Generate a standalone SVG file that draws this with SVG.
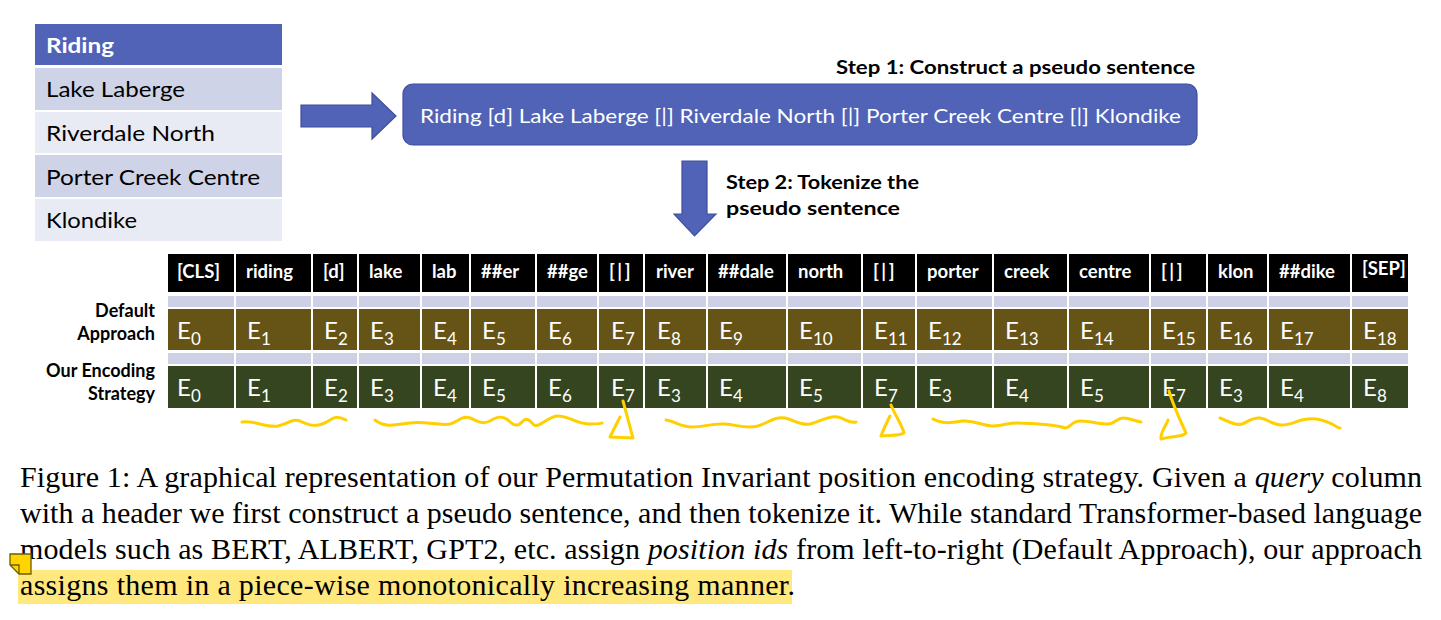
<svg xmlns="http://www.w3.org/2000/svg" width="1441" height="620" viewBox="0 0 1441 620">
<style>
  .sans { font-family: Lato, "Open Sans", "Liberation Sans", sans-serif; }
  .tbl { font-family: Lato, "Liberation Sans", sans-serif; font-size: 21px; fill: #000; }
  .hdr { font-family: Lato, "Liberation Sans", sans-serif; font-size: 21px; font-weight: bold; fill: #fff; }
  .blue { fill: #5063B7; stroke: #3F4E9E; stroke-width: 1.2; }
  .step { font-family: Lato, "Liberation Sans", sans-serif; font-size: 19px; font-weight: bold; fill: #000; }
  .tok { fill: #000; }
  .tokt { font-family: Lato, "Liberation Sans", sans-serif; font-size: 18.5px; font-weight: bold; fill: #fff; }
  .bar { letter-spacing: 2.5px; }
  .strip { fill: #CED1E6; }
  .brown { fill: #665416; }
  .green { fill: #34451F; }
  .e { font-family: Lato, "Liberation Sans", sans-serif; font-size: 24px; fill: #fff; }
  .e tspan { font-size: 17px; }
  .lbl { font-family: Lato, "Liberation Sans", sans-serif; font-size: 18px; font-weight: bold; fill: #000; text-anchor: end; }
  .cap { font-family: "Liberation Serif", "Times New Roman", serif; font-size: 30px; fill: #000; }
  .it { font-style: italic; }
  .ink { fill: none; stroke: #FFD000; stroke-width: 3; stroke-linecap: round; stroke-linejoin: round; }
</style>

<!-- Column table -->
<g id="column-table">
  <rect x="35" y="24" width="247" height="41" fill="#5063B7"/>
  <rect x="35" y="68" width="247" height="42" fill="#CFD3E8"/>
  <rect x="35" y="112" width="247" height="41" fill="#E8EAF4"/>
  <rect x="35" y="155" width="247" height="42" fill="#CFD3E8"/>
  <rect x="35" y="199" width="247" height="42" fill="#E8EAF4"/>
  <text class="hdr" x="46" y="53" textLength="68" lengthAdjust="spacingAndGlyphs">Riding</text>
  <text class="tbl" x="46" y="97" textLength="139" lengthAdjust="spacingAndGlyphs">Lake Laberge</text>
  <text class="tbl" x="46" y="141" textLength="169" lengthAdjust="spacingAndGlyphs">Riverdale North</text>
  <text class="tbl" x="46" y="185" textLength="214" lengthAdjust="spacingAndGlyphs">Porter Creek Centre</text>
  <text class="tbl" x="46" y="228" textLength="91" lengthAdjust="spacingAndGlyphs">Klondike</text>
</g>

<!-- Pseudo sentence box -->
<g id="pseudo-sentence">
  <rect class="blue" x="403" y="84" width="794" height="61" rx="10" ry="10"/>
  <text class="sans" x="420" y="123" font-size="20" fill="#fff" textLength="761" lengthAdjust="spacingAndGlyphs">Riding [d] Lake Laberge [|] Riverdale North [|] Porter Creek Centre [|] Klondike</text>
</g>

<g id="step1-label">
  <text class="step" x="836" y="74" textLength="359" lengthAdjust="spacingAndGlyphs">Step 1: Construct a pseudo sentence</text>
</g>

<g id="step2-label">
  <text class="step" x="726" y="189" textLength="193" lengthAdjust="spacingAndGlyphs">Step 2: Tokenize the</text>
  <text class="step" x="726" y="215" textLength="174" lengthAdjust="spacingAndGlyphs">pseudo sentence</text>
</g>

<!-- Connectors (block arrows) -->
<g id="connectors">
  <polygon class="blue" points="301,105 372,105 372,93 396,116 372,139 372,127 301,127"/>
  <polygon class="blue" points="682,161 707,161 707,214 716,214 694.5,236 674,214 682,214"/>
</g>

<!-- Token table -->
<g id="token-table">
  <g id="tokens">
    <rect class="tok" x="168" y="254" width="66" height="38"/>
    <rect class="tok" x="236" y="254" width="75" height="38"/>
    <rect class="tok" x="313" y="254" width="44" height="38"/>
    <rect class="tok" x="359" y="254" width="61" height="38"/>
    <rect class="tok" x="422" y="254" width="47" height="38"/>
    <rect class="tok" x="471" y="254" width="64" height="38"/>
    <rect class="tok" x="537" y="254" width="60" height="38"/>
    <rect class="tok" x="599" y="254" width="44" height="38"/>
    <rect class="tok" x="645" y="254" width="61" height="38"/>
    <rect class="tok" x="708" y="254" width="78" height="38"/>
    <rect class="tok" x="788" y="254" width="73" height="38"/>
    <rect class="tok" x="863" y="254" width="52" height="38"/>
    <rect class="tok" x="917" y="254" width="75" height="38"/>
    <rect class="tok" x="994" y="254" width="73" height="38"/>
    <rect class="tok" x="1069" y="254" width="80" height="38"/>
    <rect class="tok" x="1151" y="254" width="55" height="38"/>
    <rect class="tok" x="1208" y="254" width="59" height="38"/>
    <rect class="tok" x="1269" y="254" width="81" height="38"/>
    <rect class="tok" x="1352" y="254" width="56" height="38"/>
    <text class="tokt" x="177" y="278">[CLS]</text>
    <text class="tokt" x="246" y="278">riding</text>
    <text class="tokt" x="323" y="278">[d]</text>
    <text class="tokt" x="369" y="278">lake</text>
    <text class="tokt" x="432" y="278">lab</text>
    <text class="tokt" x="481" y="278">##er</text>
    <text class="tokt" x="547" y="278">##ge</text>
    <text class="tokt bar" x="609" y="278">[|]</text>
    <text class="tokt" x="656" y="278">river</text>
    <text class="tokt" x="718" y="278">##dale</text>
    <text class="tokt" x="798" y="278">north</text>
    <text class="tokt bar" x="873" y="278">[|]</text>
    <text class="tokt" x="927" y="278">porter</text>
    <text class="tokt" x="1004" y="278">creek</text>
    <text class="tokt" x="1079" y="278">centre</text>
    <text class="tokt bar" x="1161" y="278">[|]</text>
    <text class="tokt" x="1218" y="278">klon</text>
    <text class="tokt" x="1279" y="278">##dike</text>
    <text class="tokt" x="1362" y="275" font-size="14">[SEP]</text>
  </g>

  <g id="strips">
    <rect class="strip" x="168" y="296" width="66" height="11"/>
    <rect class="strip" x="236" y="296" width="75" height="11"/>
    <rect class="strip" x="313" y="296" width="44" height="11"/>
    <rect class="strip" x="359" y="296" width="61" height="11"/>
    <rect class="strip" x="422" y="296" width="47" height="11"/>
    <rect class="strip" x="471" y="296" width="64" height="11"/>
    <rect class="strip" x="537" y="296" width="60" height="11"/>
    <rect class="strip" x="599" y="296" width="44" height="11"/>
    <rect class="strip" x="645" y="296" width="61" height="11"/>
    <rect class="strip" x="708" y="296" width="78" height="11"/>
    <rect class="strip" x="788" y="296" width="73" height="11"/>
    <rect class="strip" x="863" y="296" width="52" height="11"/>
    <rect class="strip" x="917" y="296" width="75" height="11"/>
    <rect class="strip" x="994" y="296" width="73" height="11"/>
    <rect class="strip" x="1069" y="296" width="80" height="11"/>
    <rect class="strip" x="1151" y="296" width="55" height="11"/>
    <rect class="strip" x="1208" y="296" width="59" height="11"/>
    <rect class="strip" x="1269" y="296" width="81" height="11"/>
    <rect class="strip" x="1352" y="296" width="56" height="11"/>
    <rect class="strip" x="168" y="353" width="66" height="11"/>
    <rect class="strip" x="236" y="353" width="75" height="11"/>
    <rect class="strip" x="313" y="353" width="44" height="11"/>
    <rect class="strip" x="359" y="353" width="61" height="11"/>
    <rect class="strip" x="422" y="353" width="47" height="11"/>
    <rect class="strip" x="471" y="353" width="64" height="11"/>
    <rect class="strip" x="537" y="353" width="60" height="11"/>
    <rect class="strip" x="599" y="353" width="44" height="11"/>
    <rect class="strip" x="645" y="353" width="61" height="11"/>
    <rect class="strip" x="708" y="353" width="78" height="11"/>
    <rect class="strip" x="788" y="353" width="73" height="11"/>
    <rect class="strip" x="863" y="353" width="52" height="11"/>
    <rect class="strip" x="917" y="353" width="75" height="11"/>
    <rect class="strip" x="994" y="353" width="73" height="11"/>
    <rect class="strip" x="1069" y="353" width="80" height="11"/>
    <rect class="strip" x="1151" y="353" width="55" height="11"/>
    <rect class="strip" x="1208" y="353" width="59" height="11"/>
    <rect class="strip" x="1269" y="353" width="81" height="11"/>
    <rect class="strip" x="1352" y="353" width="56" height="11"/>
  </g>

  <g id="default-row">
    <rect class="brown" x="168" y="309" width="66" height="41"/>
    <rect class="brown" x="236" y="309" width="75" height="41"/>
    <rect class="brown" x="313" y="309" width="44" height="41"/>
    <rect class="brown" x="359" y="309" width="61" height="41"/>
    <rect class="brown" x="422" y="309" width="47" height="41"/>
    <rect class="brown" x="471" y="309" width="64" height="41"/>
    <rect class="brown" x="537" y="309" width="60" height="41"/>
    <rect class="brown" x="599" y="309" width="44" height="41"/>
    <rect class="brown" x="645" y="309" width="61" height="41"/>
    <rect class="brown" x="708" y="309" width="78" height="41"/>
    <rect class="brown" x="788" y="309" width="73" height="41"/>
    <rect class="brown" x="863" y="309" width="52" height="41"/>
    <rect class="brown" x="917" y="309" width="75" height="41"/>
    <rect class="brown" x="994" y="309" width="73" height="41"/>
    <rect class="brown" x="1069" y="309" width="80" height="41"/>
    <rect class="brown" x="1151" y="309" width="55" height="41"/>
    <rect class="brown" x="1208" y="309" width="59" height="41"/>
    <rect class="brown" x="1269" y="309" width="81" height="41"/>
    <rect class="brown" x="1352" y="309" width="56" height="41"/>
    <text class="e" x="177" y="339">E<tspan dy="6">0</tspan></text>
    <text class="e" x="247" y="339">E<tspan dy="6">1</tspan></text>
    <text class="e" x="324" y="339">E<tspan dy="6">2</tspan></text>
    <text class="e" x="370" y="339">E<tspan dy="6">3</tspan></text>
    <text class="e" x="433" y="339">E<tspan dy="6">4</tspan></text>
    <text class="e" x="482" y="339">E<tspan dy="6">5</tspan></text>
    <text class="e" x="548" y="339">E<tspan dy="6">6</tspan></text>
    <text class="e" x="611" y="339">E<tspan dy="6">7</tspan></text>
    <text class="e" x="657" y="339">E<tspan dy="6">8</tspan></text>
    <text class="e" x="719" y="339">E<tspan dy="6">9</tspan></text>
    <text class="e" x="799" y="339">E<tspan dy="6">10</tspan></text>
    <text class="e" x="874" y="339">E<tspan dy="6">11</tspan></text>
    <text class="e" x="928" y="339">E<tspan dy="6">12</tspan></text>
    <text class="e" x="1005" y="339">E<tspan dy="6">13</tspan></text>
    <text class="e" x="1080" y="339">E<tspan dy="6">14</tspan></text>
    <text class="e" x="1162" y="339">E<tspan dy="6">15</tspan></text>
    <text class="e" x="1219" y="339">E<tspan dy="6">16</tspan></text>
    <text class="e" x="1280" y="339">E<tspan dy="6">17</tspan></text>
    <text class="e" x="1363" y="339">E<tspan dy="6">18</tspan></text>
  </g>

  <g id="ours-row">
    <rect class="green" x="168" y="366" width="66" height="42"/>
    <rect class="green" x="236" y="366" width="75" height="42"/>
    <rect class="green" x="313" y="366" width="44" height="42"/>
    <rect class="green" x="359" y="366" width="61" height="42"/>
    <rect class="green" x="422" y="366" width="47" height="42"/>
    <rect class="green" x="471" y="366" width="64" height="42"/>
    <rect class="green" x="537" y="366" width="60" height="42"/>
    <rect class="green" x="599" y="366" width="44" height="42"/>
    <rect class="green" x="645" y="366" width="61" height="42"/>
    <rect class="green" x="708" y="366" width="78" height="42"/>
    <rect class="green" x="788" y="366" width="73" height="42"/>
    <rect class="green" x="863" y="366" width="52" height="42"/>
    <rect class="green" x="917" y="366" width="75" height="42"/>
    <rect class="green" x="994" y="366" width="73" height="42"/>
    <rect class="green" x="1069" y="366" width="80" height="42"/>
    <rect class="green" x="1151" y="366" width="55" height="42"/>
    <rect class="green" x="1208" y="366" width="59" height="42"/>
    <rect class="green" x="1269" y="366" width="81" height="42"/>
    <rect class="green" x="1352" y="366" width="56" height="42"/>
    <text class="e" x="177" y="396">E<tspan dy="6">0</tspan></text>
    <text class="e" x="247" y="396">E<tspan dy="6">1</tspan></text>
    <text class="e" x="324" y="396">E<tspan dy="6">2</tspan></text>
    <text class="e" x="370" y="396">E<tspan dy="6">3</tspan></text>
    <text class="e" x="433" y="396">E<tspan dy="6">4</tspan></text>
    <text class="e" x="482" y="396">E<tspan dy="6">5</tspan></text>
    <text class="e" x="548" y="396">E<tspan dy="6">6</tspan></text>
    <text class="e" x="611" y="396">E<tspan dy="6">7</tspan></text>
    <text class="e" x="657" y="396">E<tspan dy="6">3</tspan></text>
    <text class="e" x="719" y="396">E<tspan dy="6">4</tspan></text>
    <text class="e" x="799" y="396">E<tspan dy="6">5</tspan></text>
    <text class="e" x="874" y="396">E<tspan dy="6">7</tspan></text>
    <text class="e" x="928" y="396">E<tspan dy="6">3</tspan></text>
    <text class="e" x="1005" y="396">E<tspan dy="6">4</tspan></text>
    <text class="e" x="1080" y="396">E<tspan dy="6">5</tspan></text>
    <text class="e" x="1162" y="396">E<tspan dy="6">7</tspan></text>
    <text class="e" x="1219" y="396">E<tspan dy="6">3</tspan></text>
    <text class="e" x="1280" y="396">E<tspan dy="6">4</tspan></text>
    <text class="e" x="1363" y="396">E<tspan dy="6">8</tspan></text>
  </g>
</g>

<g id="row-labels">
  <text class="lbl" x="155" y="317">Default</text>
  <text class="lbl" x="155" y="340">Approach</text>
  <text class="lbl" x="155" y="377">Our Encoding</text>
  <text class="lbl" x="155" y="400">Strategy</text>
</g>

<!-- Hand-drawn yellow annotations -->
<g id="annotations">
  <path class="ink" d="M242,422 C255,420 265,428 278,426 C288,424 292,418 300,421 C310,426 318,428 330,420 C336,416 340,417 346,420"/>
  <path class="ink" d="M375,420 C385,428 395,425 410,423 C425,421 440,426 450,424 C458,422 462,415 470,418 C478,421 482,425 490,421 C498,416 503,416 508,420 C514,426 518,427 523,421 C527,417 530,421 534,425 C540,428 548,416 558,416 C570,416 575,424 590,424 C596,424 600,424 602,423"/>
  <path class="ink" d="M623,401 L633,438 L610,437 L620,417"/>
  <path class="ink" d="M666,420 C675,421 680,427 692,427 C705,427 712,423 725,424 C738,425 745,429 758,426 C768,423 775,416 785,418 C795,420 800,426 810,424 C820,422 828,415 838,417 C846,419 850,424 856,422"/>
  <path class="ink" d="M891,405 C895,415 902,425 904,433 C900,436 890,435 881,436 C884,428 888,420 890,416"/>
  <path class="ink" d="M933,419 C942,424 950,423 962,421 C975,420 982,426 993,426 C1005,426 1008,422 1020,423 C1040,424 1055,424 1065,428 C1070,428 1072,421 1080,421 C1090,421 1098,424 1108,424 C1115,424 1117,418 1123,418 C1130,418 1134,421 1141,422"/>
  <path class="ink" d="M1169,391 C1173,405 1180,420 1186,433 C1184,437 1170,436 1161,439 C1160,433 1166,426 1168,420"/>
  <path class="ink" d="M1220,418 C1228,421 1235,426 1242,424 C1248,422 1252,417 1260,418 C1268,419 1272,425 1282,425 C1292,425 1296,420 1308,419 C1318,418 1325,421 1332,424 C1336,426 1338,428 1340,428"/>
</g>

<!-- Caption -->
<g id="caption">
  <rect x="18" y="570" width="774" height="34" fill="#FFE97F"/>
  <text class="cap" x="20" y="487" textLength="1402" lengthAdjust="spacing">Figure 1: A graphical representation of our Permutation Invariant position encoding strategy. Given a <tspan class="it">query</tspan> column</text>
  <text class="cap" x="20" y="523" textLength="1402" lengthAdjust="spacing">with a header we first construct a pseudo sentence, and then tokenize it. While standard Transformer-based language</text>
  <text class="cap" x="20" y="559" textLength="1402" lengthAdjust="spacing">models such as BERT, ALBERT, GPT2, etc. assign <tspan class="it">position ids</tspan> from left-to-right (Default Approach), our approach</text>
  <text class="cap" x="20" y="595" textLength="775" lengthAdjust="spacing">assigns them in a piece-wise monotonically increasing manner.</text>
  <g id="note-icon">
    <polygon points="10,554 31,554 31,574 19,574 10,565" fill="#FFD400" stroke="#6E5C00" stroke-width="1.3"/>
    <polyline points="10,565 19,565 19,574" fill="none" stroke="#6E5C00" stroke-width="1.3"/>
  </g>
</g>
</svg>
